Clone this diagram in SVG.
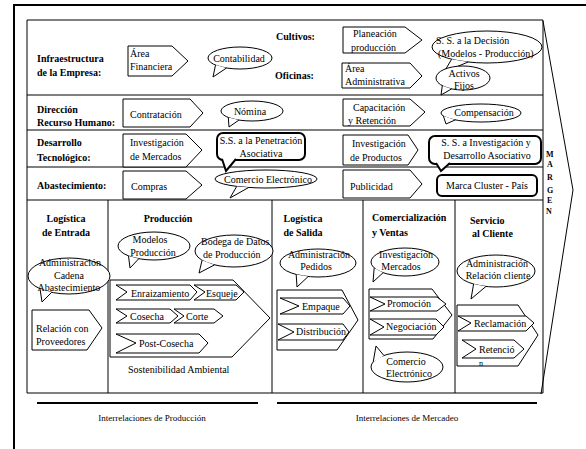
<svg xmlns="http://www.w3.org/2000/svg" width="586" height="449" viewBox="0 0 586 449" font-family="'Liberation Serif', 'Times New Roman', 'DejaVu Serif', serif">
<style>
text{font-family:'Liberation Serif','Times New Roman','DejaVu Serif',serif;font-size:10px;fill:#000}
.b{font-weight:bold}
.m{text-anchor:middle}
.sh{fill:#fff;stroke:#000;stroke-width:1}
.th{fill:#fff;stroke:#000;stroke-width:2}
.ln{stroke:#000;stroke-width:1;fill:none}
.tk{stroke:#000;stroke-width:2;fill:none}
.sm{font-size:8px}
</style>
<rect width="586" height="449" fill="#fff"/>
<g id="frame">
<line class="tk" x1="13" y1="5" x2="586" y2="5"/>
<line class="tk" x1="14" y1="4" x2="14" y2="449"/>
<polyline class="ln" points="543,20 27,20 27,393 543,393"/>
<line class="ln" x1="543" y1="20" x2="543" y2="393"/>
<line class="ln" x1="27" y1="95" x2="543" y2="95"/>
<line class="ln" x1="27" y1="130" x2="543" y2="130"/>
<line class="ln" x1="27" y1="167" x2="543" y2="167"/>
<line class="ln" x1="27" y1="200" x2="543" y2="200"/>
<line class="ln" x1="108" y1="200" x2="108" y2="393"/>
<line class="ln" x1="272" y1="200" x2="272" y2="393"/>
<line class="ln" x1="363" y1="200" x2="363" y2="393"/>
<line class="ln" x1="455" y1="200" x2="455" y2="393"/>
<polyline class="ln" points="543,21 573,190 541,394"/>
<line class="tk" x1="37" y1="403" x2="258" y2="403"/>
<line class="tk" x1="277" y1="403" x2="537" y2="403"/>
</g>
<g id="connectors"></g>
<g id="labels">
<text class="b" x="37" y="62">Infraestructura</text>
<text class="b" x="37" y="76">de la Empresa:</text>
<text class="b" x="276" y="40">Cultivos:</text>
<text class="b" x="275" y="79">Oficinas:</text>
<text class="b" x="37" y="113">Dirección</text>
<text class="b" x="37" y="126">Recurso Humano:</text>
<text class="b" x="37" y="146">Desarrollo</text>
<text class="b" x="37" y="161">Tecnológico:</text>
<text class="b" x="37" y="189">Abastecimiento:</text>
<text class="b m" x="66" y="222">Logística</text>
<text class="b m" x="66" y="236">de Entrada</text>
<text class="b m" x="168" y="222">Producción</text>
<text class="b m" x="303" y="222">Logística</text>
<text class="b m" x="303" y="236">de Salida</text>
<text class="b" x="372" y="221">Comercialización</text>
<text class="b" x="372" y="236">y Ventas</text>
<text class="b" x="470" y="224">Servicio</text>
<text class="b" x="472" y="237">al Cliente</text>
<text class="b sm" x="546" y="157">M</text>
<text class="b sm" x="547" y="167">A</text>
<text class="b sm" x="547" y="180">R</text>
<text class="b sm" x="547" y="193">G</text>
<text class="b sm" x="547" y="203">E</text>
<text class="b sm" x="546" y="214">N</text>
<text class="m" x="152" y="421" style="font-size:9px">Interrelaciones de Producción</text>
<text class="m" x="407" y="421" style="font-size:9px">Interrelaciones de Mercadeo</text>
<text x="128" y="373">Sostenibilidad Ambiental</text>
</g>
<g id="area-financiera"><polygon class="sh" points="128,46 172,46 188,61 172,76 128,76"/><text x="130" y="57">Área</text><text x="130" y="70">Financiera</text></g>
<g id="contabilidad"><ellipse class="sh" cx="240" cy="58" rx="32" ry="11"/><path class="sh" d="M226.5,68 L213,77 L215.5,65.1"/><text class="m" x="239" y="62">Contabilidad</text></g>
<g id="planeacion"><polygon class="sh" points="343,27 405,27 422,40 405,53 343,53"/><text x="353" y="37">Planeación</text><text x="351" y="51">producción</text></g>
<g id="ss-decision"><ellipse class="sh" cx="487" cy="47" rx="55" ry="16"/><path class="sh" d="M468.2,62 L444,72 L451.6,59.3"/><text x="436" y="44">S. S. a la Decisión</text><text x="438" y="57">(Modelos - Producción)</text></g>
<g id="area-administrativa"><polygon class="sh" points="342,63 410,63 422,76 410,88 342,88"/><text x="345" y="72">Área</text><text x="345" y="85">Administrativa</text></g>
<g id="activos-fijos"><ellipse class="sh" cx="463" cy="78" rx="27" ry="12"/><path class="sh" d="M451.6,88.9 L441,95 L442.3,85.7"/><text class="m" x="464" y="77">Activos</text><text class="m" x="464" y="89">Fijos</text></g>
<g id="contratacion"><polygon class="sh" points="123,99 190,99 203,113 190,127 123,127"/><text x="130" y="118">Contratación</text></g>
<g id="nomina"><ellipse class="sh" cx="252" cy="111" rx="31" ry="10"/><path class="sh" d="M238.9,120.1 L229,127 L228.3,117.4"/><text class="m" x="250" y="115">Nómina</text></g>
<g id="capacitacion"><polygon class="sh" points="343,99 410,99 425,112 410,126 343,126"/><text x="353" y="111">Capacitación</text><text x="348" y="124">y Retención</text></g>
<g id="compensacion"><ellipse class="sh" cx="481" cy="113" rx="40" ry="9"/><path class="sh" d="M455.3,119.9 L446,124 L443.4,116.1"/><text class="m" x="484" y="116">Compensación</text></g>
<g id="inv-mercados"><polygon class="sh" points="123,134 186,134 202,150 186,167 123,167"/><text x="130" y="146">Investigación</text><text x="130" y="160">de Mercados</text></g>
<g id="ss-penetracion"><rect class="th" x="217" y="133" width="88" height="27" rx="6"/><path class="th" d="M222,159 L226,171 L236,159"/><text class="m" x="261" y="144">S.S. a la Penetración</text><text class="m" x="261" y="157">Asociativa</text></g>
<g id="inv-productos"><polygon class="sh" points="343,135 408,135 418,150 408,165 343,165"/><text x="352" y="147">Investigación</text><text x="350" y="161">de Productos</text></g>
<g id="ss-investigacion"><rect class="th" x="429" y="136" width="112" height="28" rx="6"/><path class="th" d="M436,163 L441,171 L450,163"/><text class="m" x="486" y="146">S. S. a Investigación y</text><text class="m" x="487" y="159">Desarrollo Asociativo</text></g>
<g id="compras"><polygon class="sh" points="123,171 186,171 202,185 186,199 123,199"/><text x="131" y="190">Compras</text></g>
<g id="comercio-1"><ellipse class="sh" cx="266" cy="179" rx="51" ry="9"/><path class="sh" d="M248.6,187.5 L230,198 L236.7,186.4"/><text class="m" x="268" y="183">Comercio Electrónico</text></g>
<g id="publicidad"><polygon class="sh" points="343,170 410,170 422,184 410,198 343,198"/><text x="350" y="190">Publicidad</text></g>
<g id="marca"><rect class="th" x="437" y="175" width="100" height="21" rx="5"/><text class="m" x="487" y="189">Marca Cluster - País</text></g>
<g id="adm-cadena"><ellipse class="sh" cx="69" cy="276" rx="41" ry="18"/><path class="sh" d="M51.7,292.3 L42,302 L40,288.7"/><text class="m" x="70" y="266">Administración</text><text class="m" x="69" y="279">Cadena</text><text class="m" x="69" y="291">Abastecimiento</text></g>
<g id="relacion-proveedores"><polygon class="sh" points="32,310 89,310 102,328 87,350 32,350"/><text x="36" y="332">Relación con</text><text x="36" y="345">Proveedores</text></g>
<g id="modelos"><ellipse class="sh" cx="154" cy="246" rx="36" ry="14"/><path class="sh" d="M138.8,258.7 L130,268 L128.5,255.9"/><text class="m" x="150" y="243">Modelos</text><text class="m" x="153" y="256">Producción</text></g>
<g id="bodega"><ellipse class="sh" cx="234" cy="251" rx="39" ry="16"/><path class="sh" d="M214.5,264.9 L199,273 L202.1,260.2"/><text x="201" y="245">Bodega de Datos</text><text x="203" y="258">de Producción</text></g>
<g id="produccion-cadena"><polygon class="sh" points="110,280 233,280 270,318 232,357 110,357"/>
<polygon class="sh" points="194,285 236,285 244,292 236,300 194,300 205,292"/><text x="206" y="297">Esqueje</text>
<polygon class="sh" points="116,285 190,285 197,292 190,300 116,300 127,292"/><text x="131" y="297">Enraizamiento</text>
<polygon class="sh" points="174,309 214,309 223,316 214,323 174,323 184,316"/><text x="186" y="320">Corte</text>
<polygon class="sh" points="116,309 170,309 178,316 170,323 116,323 127,316"/><text x="130" y="320">Cosecha</text>
<polygon class="sh" points="116,334 199,334 208,343 199,353 116,353 136,343"/><text x="139" y="347">Post-Cosecha</text></g>
<g id="adm-pedidos"><ellipse class="sh" cx="318" cy="263" rx="38" ry="14"/><path class="sh" d="M308.2,276.5 L297,287 L296.2,274.5"/><text class="m" x="319" y="258">Administración</text><text class="m" x="316" y="270">Pedidos</text></g>
<g id="salida-cadena"><polygon class="sh" points="277,290 342,290 358,320 337,350 277,350"/>
<polygon class="sh" points="280,298 343,298 350,306 343,314 280,314 299,306"/><text x="302" y="310">Empaque</text>
<polygon class="sh" points="278,324 343,324 349,332 343,340 278,340 294,332"/><text x="296" y="335">Distribución</text></g>
<g id="inv-mercados-2"><ellipse class="sh" cx="405" cy="262" rx="34" ry="14"/><path class="sh" d="M383.1,272.7 L373,282 L374.2,267.9"/><text class="m" x="406" y="258">Investigación</text><text class="m" x="401" y="270">Mercados</text></g>
<g id="comercial-cadena"><polygon class="sh" points="369,289 432,289 452,315 433,339 369,339"/>
<polygon class="sh" points="370,297 437,297 446,304 437,311 370,311 385,304"/><text x="387" y="307">Promoción</text>
<polygon class="sh" points="370,319 436,319 444,327 436,335 370,335 384,327"/><text x="386" y="330">Negociación</text></g>
<g id="comercio-2"><ellipse class="sh" cx="407" cy="367" rx="36" ry="15"/><path class="sh" d="M373.2,361.9 L376,346 L383.9,355.5"/><text class="m" x="406" y="365">Comercio</text><text class="m" x="409" y="377">Electrónico</text></g>
<g id="adm-relacion"><ellipse class="sh" cx="496" cy="271" rx="39" ry="16"/><path class="sh" d="M485.9,286.5 L471,299 L473.6,284.1"/><text class="m" x="497" y="267">Administración</text><text class="m" x="498" y="279">Relación cliente</text></g>
<g id="servicio-cadena"><polygon class="sh" points="457,305 518,305 538,335 518,366 457,366"/>
<polygon class="sh" points="458,316 526,316 534,323 526,331 458,331 471,323"/><text x="474" y="327">Reclamación</text>
<polygon class="sh" points="462,340 514,340 524,349 514,358 462,358 476,349"/><text x="479" y="353">Retenció</text><text x="479" y="366" class="sm">n</text></g>
</svg>
